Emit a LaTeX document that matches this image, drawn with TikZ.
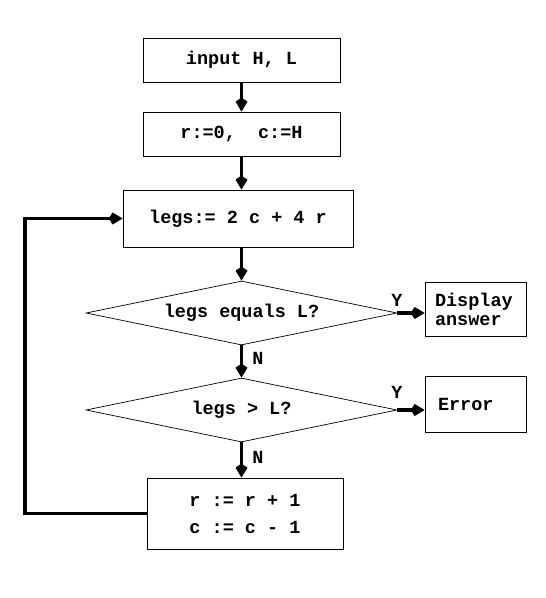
\documentclass[tikz,border=0pt]{standalone}
\usepackage{fontspec}
\setmainfont{Liberation Mono}
\usetikzlibrary{shapes.geometric,arrows.meta}
\begin{document}
\begin{tikzpicture}[x=1pt,y=-1pt,
  ftext/.style={font=\fontsize{18.5}{27}\selectfont\bfseries},
  box/.style={draw, line width=0.8pt, inner sep=0pt, ftext},
  dia/.style={draw, diamond, line width=0.7pt, aspect=4.86, inner sep=0pt, minimum width=311, minimum height=64, ftext},
  tip/.style={-{Kite[length=14pt,width=12pt,inset=4pt]}},
  arr/.style={line width=3.6pt, tip},
  lbl/.style={inner sep=0pt, ftext}]
\useasboundingbox (0,0) rectangle (546,598);
\node[box, minimum width=197, minimum height=44] (b1) at (241.5,60) {input H, L};
\node[box, minimum width=197, minimum height=44] (b2) at (241.5,134) {r:=0,~ c:=H};
\node[box, minimum width=230, minimum height=57] (b3) at (238,218.5) {legs:= 2 c + 4 r};
\node[dia] (d1) at (241.5,313) {legs equals L?};
\node[dia] (d2) at (241.5,410) {legs > L?};
\node[box, minimum height=54, inner xsep=10pt, text width=81pt, align=left] (disp) at (475.5,309) {Display\\[-8pt]answer};
\node[box, minimum height=56, inner xsep=13pt, text width=75pt, align=left] (err) at (475.5,404) {Error};
\node[box, minimum width=196, minimum height=71, align=center] (b4) at (245,513.5) {r := r + 1\\c := c - 1};
\coordinate (lp) at (25,516);
\draw[arr] (b1.south) -- (b2.north);
\draw[arr] (b2.south) -- (b2.south |- b3.north);
\draw[arr] (d1.north |- b3.south) -- (d1.north);
\draw[arr] (d1.south) -- (d2.north);
\draw[arr] (d2.south) -- (d2.south |- b4.north);
\draw[arr] (d1.east) -- (disp.west |- d1.east);
\draw[arr] (d2.east) -- (err.west |- d2.east);
\draw[arr] (b4.west) -- (b4.west -| lp) |- (b3.west);
\node[lbl] (y1) at (397,300) {Y};
\node[lbl] (y2) at (397,392) {Y};
\node[lbl] (n1) at (258,358) {N};
\node[lbl] (n2) at (258,457) {N};
\end{tikzpicture}
\end{document}
